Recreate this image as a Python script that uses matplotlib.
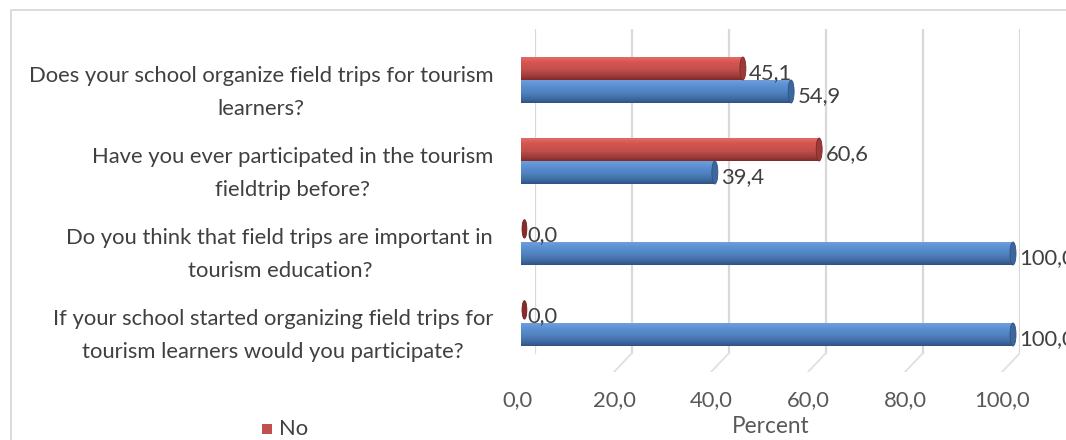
import matplotlib
matplotlib.use("Agg")
import matplotlib.pyplot as plt
import matplotlib.transforms as mtransforms
from matplotlib.patches import Rectangle, Ellipse
import numpy as np

plt.rcParams['font.family'] = ['Lato', 'DejaVu Sans']

categories = [
    "Does your school organize field trips for tourism\nlearners?",
    "Have you ever participated in the tourism\nfieldtrip before?",
    "Do you think that field trips are important in\ntourism education?",
    "If your school started organizing field trips for\ntourism learners would you participate?",
]
yes_vals = [54.9, 39.4, 100.0, 100.0]
no_vals = [45.1, 60.6, 0.0, 0.0]
ticks = [0, 20, 40, 60, 80, 100]

TXT = '#404040'
FS = 15.8
BLUE = ['#6f9fdc', '#5b8fd3', '#4f81bd', '#3d679c', '#2f5385']
RED = ['#e26b67', '#d6534f', '#c0504d', '#9c3a37', '#7f2b29']

W, H = 1066, 440
fig = plt.figure(figsize=(W / 100, H / 100), dpi=100)


def px(x0, y0, x1, y1):
    # pixel box (top-left origin) -> figure fraction rect
    return [x0 / W, 1 - y1 / H, (x1 - x0) / W, (y1 - y0) / H]


# outer chart border (cropped on right/bottom)
border = fig.add_axes(px(0, 0, W, H))
border.set_xlim(0, W)
border.set_ylim(H, 0)
border.axis('off')
border.plot([11, 11, W + 5], [H + 5, 10, 10], color='#d9d9d9', lw=1.3)

# back wall: gridlines + floor ticks
ax_g = fig.add_axes(px(535, 29, 1020, 372))
ax_g.set_xlim(0, 100)
ax_g.set_ylim(0, 1)
for s in ax_g.spines.values():
    s.set_visible(False)
ax_g.set_yticks([])
floor = 19 / 343
shift = 18 / 4.85
for t in ticks:
    ax_g.plot([t, t], [floor, 1], color='#d9d9d9', lw=1.6, zorder=0)
    ax_g.plot([t, t - shift], [floor, 0], color='#e0e0e0', lw=1.3, zorder=0)
ax_g.set_xticks(ticks)
ax_g.set_xticklabels(['{:.1f}'.format(t).replace('.', ',') for t in ticks],
                     fontsize=FS, color='#595959')
ax_g.tick_params(axis='x', length=0, pad=13)
off = mtransforms.ScaledTranslation(-18 / 100, 0, fig.dpi_scale_trans)
for lab in ax_g.get_xticklabels():
    lab.set_transform(lab.get_transform() + off)
ax_g.set_xlabel('Percent', fontsize=FS + 0.5, color='#595959')
ax_g.xaxis.set_label_coords(0.485, -0.128)

# bars
ax = fig.add_axes(px(521, 0, W, H))
ax.patch.set_alpha(0)
xmax = (W - 521) / 4.92
top = -80 / 81
ax.set_xlim(0, xmax)
ax.set_ylim((H - 80) / 81, top)
for s in ax.spines.values():
    s.set_visible(False)
ax.set_xticks([])

bh = 23 / 81
cap = 6 / 4.92


def cyl(y, v, cols):
    if v > 0:
        cmap = matplotlib.colors.LinearSegmentedColormap.from_list(
            'c', list(zip([0, 0.25, 0.55, 0.85, 1.0], cols)))
        img = ax.imshow(np.linspace(0, 1, 60).reshape(-1, 1), cmap=cmap,
                        aspect='auto', extent=(0, v, y + bh / 2, y - bh / 2),
                        zorder=3, interpolation='bilinear')
        clip = Rectangle((0, y - bh / 2), v, bh, transform=ax.transData,
                         facecolor='none', edgecolor='none')
        ax.add_patch(clip)
        img.set_clip_path(clip)
        ax.add_patch(Ellipse((v, y), cap, bh, facecolor=cols[3],
                             edgecolor=cols[4], lw=0.6, zorder=4))
        ax.add_patch(Ellipse((0.3, y), cap * 0.6, bh, facecolor=cols[2],
                             edgecolor='none', zorder=2))
    else:
        ax.add_patch(Ellipse((0.7, y - 0.02), cap * 0.8, bh * 0.8,
                             facecolor='#8b2a2a', edgecolor='#6e1f1f',
                             lw=0.6, zorder=4))


ypos = np.arange(len(categories))
for i in ypos:
    cyl(i - bh / 2, no_vals[i], RED)
    cyl(i + bh / 2, yes_vals[i], BLUE)
    for v, yy in ((no_vals[i], i - bh / 2), (yes_vals[i], i + bh / 2)):
        ax.text(v + 1.3, yy + 0.06, '{:.1f}'.format(v).replace('.', ','),
                fontsize=FS, color=TXT, va='center', ha='left',
                zorder=5, clip_on=False)

ax.set_yticks(ypos + 0.05)
ax.set_yticklabels(categories, fontsize=FS, color=TXT,
                   multialignment='center', linespacing=1.78)
ax.tick_params(axis='y', length=0, pad=20)

# legend (only "No" visible in the crop)
border.add_patch(Rectangle((262, 424), 10, 10, facecolor=RED[2], edgecolor='none'))
border.text(279, 429, 'No', fontsize=FS, color=TXT, va='center', ha='left')

fig.savefig('out.png', dpi=100)
